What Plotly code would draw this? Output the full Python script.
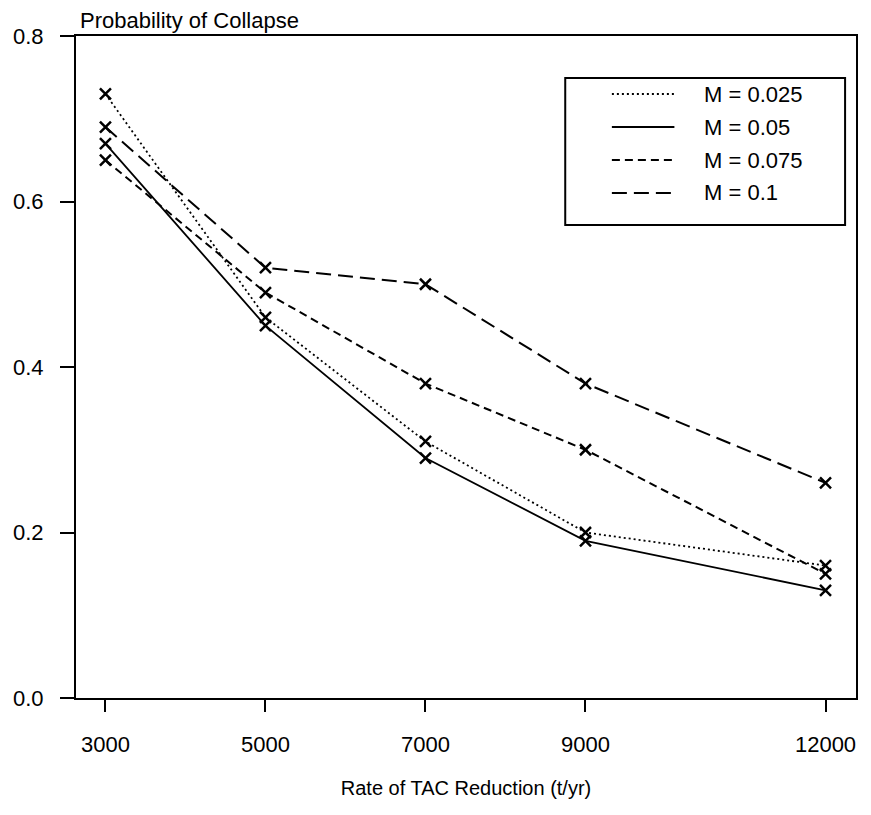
import plotly.graph_objects as go

# --- data ---
tac_rate = [3000, 5000, 7000, 9000, 12000]
m_labels = ["M = 0.025", "M = 0.05", "M = 0.075", "M = 0.1"]
p_m0025 = [0.73, 0.46, 0.31, 0.20, 0.16]
p_m005 = [0.67, 0.45, 0.29, 0.19, 0.13]
p_m0075 = [0.65, 0.49, 0.38, 0.30, 0.15]
p_m01 = [0.69, 0.52, 0.50, 0.38, 0.26]
y_ticks = [0.0, 0.2, 0.4, 0.6, 0.8]

series = [p_m0025, p_m005, p_m0075, p_m01]
dashes = ["2px,3px", "solid", "8px,5px", "15px,7px"]
widths = [1.8, 1.8, 2.0, 2.0]

FONT = "Liberation Sans, Arial, Helvetica, sans-serif"
OFF = 8  # the page body keeps an 8px margin around the plot div
W, H = 871 - 2 * OFF, 815 - 2 * OFF
L, R, T, B = 64, 5, 28, 109
PW, PH = W - L - R, H - T - B


def px(x):
    # page pixel column -> paper x
    return (x - OFF - L) / PW


def py(y):
    # page pixel row -> paper y
    return (H - B - (y - OFF)) / PH


fig = go.Figure()
for name, vals, dash, w in zip(m_labels, series, dashes, widths):
    fig.add_trace(go.Scatter(
        x=tac_rate, y=vals, name=name, mode="lines+markers", showlegend=False,
        line=dict(color="black", width=w, dash=dash),
        marker=dict(symbol="x-thin", size=11, line=dict(color="black", width=2.5)),
    ))

# hand-drawn legend box (long line samples, no markers, like the original)
shapes = [dict(type="rect", xref="paper", yref="paper",
               x0=px(565), x1=px(847), y0=py(225), y1=py(78),
               line=dict(color="black", width=2), fillcolor="white", layer="above")]
annotations = []
for i, (name, dash, w) in enumerate(zip(m_labels, dashes, widths)):
    row = 94 + 33 * i
    shapes.append(dict(type="line", xref="paper", yref="paper",
                       x0=px(612), x1=px(675), y0=py(row), y1=py(row),
                       line=dict(color="black", width=w, dash=dash), layer="above"))
    annotations.append(dict(text=name, xref="paper", yref="paper",
                            x=px(703), y=py(row), xanchor="left", yanchor="middle",
                            showarrow=False, font=dict(size=22)))

annotations.append(dict(
    text="Probability of Collapse", xref="paper", yref="paper",
    x=px(74), y=1, xanchor="left", yanchor="bottom", yshift=1,
    showarrow=False, font=dict(size=22),
))

fig.update_layout(
    width=W, height=H,
    margin=dict(l=L, r=R, t=T, b=B),
    paper_bgcolor="white", plot_bgcolor="white",
    font=dict(family=FONT, color="black", size=20),
    shapes=shapes, annotations=annotations,
)

fig.update_xaxes(
    range=[2632, 12381], tickvals=tac_rate, ticktext=[str(v) for v in tac_rate],
    showgrid=False, zeroline=False, showline=True, linecolor="black", linewidth=2,
    mirror=True, ticks="outside", ticklen=12, tickwidth=2, tickcolor="black",
    tickfont=dict(size=22), ticklabelstandoff=14,
    title=dict(text="Rate of TAC Reduction (t/yr)", font=dict(size=20), standoff=25),
)
fig.update_yaxes(
    range=[0, 0.8], tickvals=y_ticks, tickformat=".1f",
    showgrid=False, zeroline=False, showline=True, linecolor="black", linewidth=2,
    mirror=True, ticks="outside", ticklen=14, tickwidth=2, tickcolor="black",
    tickfont=dict(size=22), ticklabelstandoff=12,
)

fig.write_html("out.html")
